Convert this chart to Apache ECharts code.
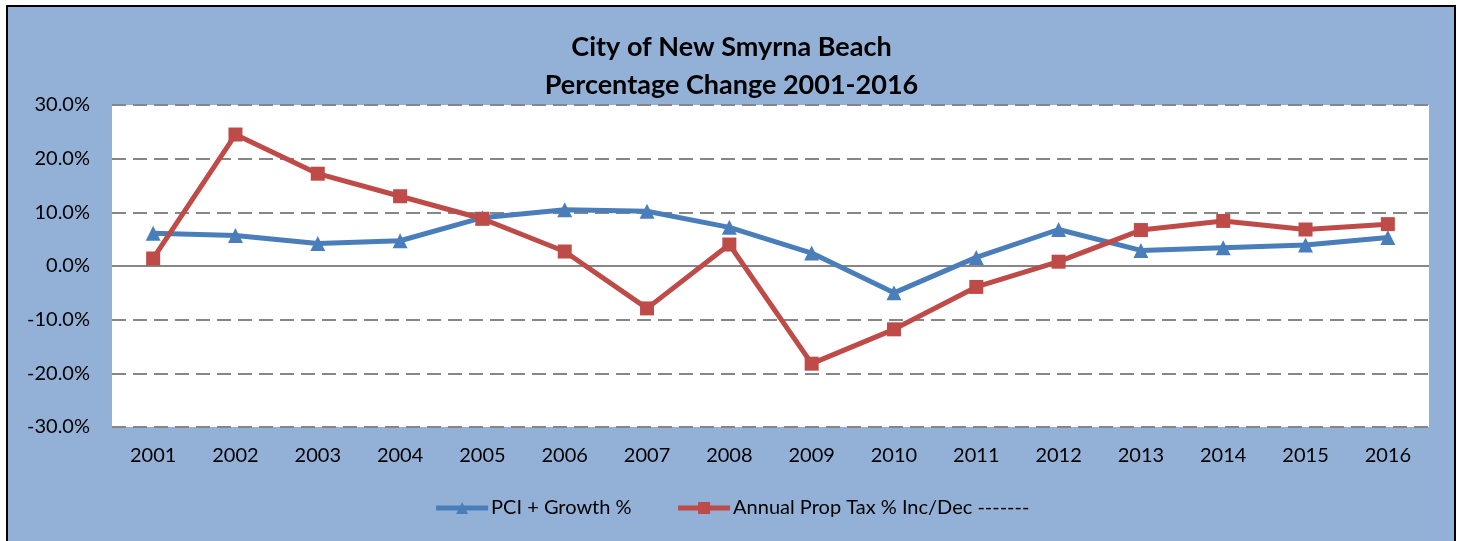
<!DOCTYPE html>
<html>
<head>
<meta charset="utf-8">
<script src="https://cdn.jsdelivr.net/npm/echarts@6/dist/echarts.min.js"></script>
<style>
    html, body { margin: 0; padding: 0; background: #ffffff; }
    #main { width: 1463px; height: 541px; }
</style>
</head>
<body>
<div id="main"></div>
<script>
    // years on the x axis
    const years = ['2001', '2002', '2003', '2004', '2005', '2006', '2007', '2008',
        '2009', '2010', '2011', '2012', '2013', '2014', '2015', '2016'];
    // PCI + Growth %
    const pciGrowth = [6.1, 5.7, 4.2, 4.7, 9.0, 10.5, 10.2, 7.2, 2.4, -5.0, 1.6, 6.8, 2.9, 3.4, 3.9, 5.3];
    // Annual Prop Tax % Inc/Dec
    const propTax = [1.4, 24.5, 17.2, 13.0, 8.8, 2.7, -7.9, 4.0, -18.2, -11.8, -3.9, 0.8, 6.7, 8.4, 6.8, 7.8];
    const seriesNames = ['PCI + Growth %', 'Annual Prop Tax % Inc/Dec -------'];

    const chart = echarts.init(document.getElementById('main'));
    const font = 'Lato, "Noto Sans", sans-serif';

    const option = {
        animation: false,
        backgroundColor: '#ffffff',
        graphic: [{
            type: 'rect',
            z: -10,
            silent: true,
            shape: { x: 7, y: 6, width: 1448, height: 600 },
            style: { fill: '#93b1d7', stroke: '#000000', lineWidth: 2 }
        }],
        title: {
            text: 'City of New Smyrna Beach\nPercentage Change 2001-2016',
            left: 'center',
            top: 23,
            textStyle: {
                fontFamily: font,
                fontWeight: 'bold',
                fontSize: 27,
                lineHeight: 38,
                color: '#000000'
            }
        },
        legend: {
            left: 'center',
            top: 493,
            itemWidth: 52,
            itemHeight: 15,
            itemGap: 44,
            lineStyle: { width: 5 },
            textStyle: { fontFamily: font, fontSize: 20, color: '#000000', padding: [0, 0, 0, -2] },
            data: seriesNames
        },
        grid: {
            left: 112,
            right: 34,
            top: 105,
            bottom: 114,
            show: true,
            backgroundColor: '#ffffff',
            borderWidth: 0
        },
        xAxis: {
            type: 'category',
            data: years,
            boundaryGap: true,
            axisLine: { show: false, onZero: false },
            axisTick: { show: false },
            axisLabel: { fontFamily: font, fontSize: 20, color: '#000000', margin: 19 }
        },
        yAxis: {
            type: 'value',
            min: -30,
            max: 30,
            interval: 10,
            axisLine: { show: false },
            axisTick: { show: false },
            axisLabel: {
                fontFamily: font,
                fontSize: 20,
                color: '#000000',
                margin: 22,
                formatter: (v) => v.toFixed(1) + '%'
            },
            splitLine: {
                lineStyle: { color: '#868686', width: 2, type: [14, 7] }
            }
        },
        series: [
            {
                name: seriesNames[0],
                type: 'line',
                data: pciGrowth,
                symbol: 'triangle',
                symbolSize: 15,
                z: 3,
                color: '#4a7ebb',
                lineStyle: { width: 5, color: '#4a7ebb' },
                itemStyle: { color: '#4a7ebb' },
                markLine: {
                    silent: true,
                    symbol: 'none',
                    label: { show: false },
                    lineStyle: { color: '#868686', width: 2, type: 'solid' },
                    data: [{ yAxis: 0 }],
                    z: 1
                }
            },
            {
                name: seriesNames[1],
                type: 'line',
                data: propTax,
                symbol: 'rect',
                symbolSize: 14,
                z: 4,
                color: '#be4b48',
                lineStyle: { width: 5, color: '#be4b48' },
                itemStyle: { color: '#be4b48' }
            }
        ]
    };

    chart.setOption(option);
</script>
</body>
</html>
